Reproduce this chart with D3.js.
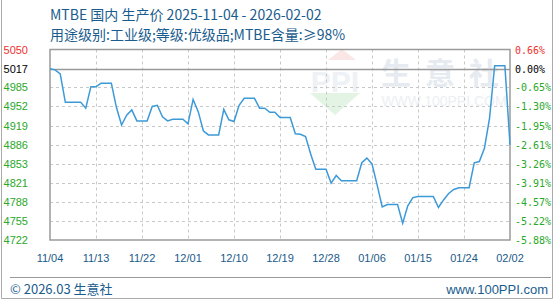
<!DOCTYPE html>
<html>
<head>
<meta charset="utf-8">
<script src="https://cdn.jsdelivr.net/npm/d3@7"></script>
<style>
body { margin: 0; background: #fff; }
svg { display: block; }
.grid { stroke: #c8c8c8; stroke-dasharray: 3,3; stroke-width: 1; }
.ylab { font-family: "Liberation Sans", Arial, sans-serif; font-size: 11px; }
.plab { font-family: "DejaVu Sans Mono", monospace; font-size: 10px; }
.xlab { font-family: "Liberation Sans", Arial, sans-serif; font-size: 11px; fill: #1a5a8a; }
.title { font-family: "Noto Sans CJK SC", sans-serif; font-size: 14px; fill: #1a5c8e; }
</style>
</head>
<body>
<div id="chart"></div>
<script>
// price points (date, yuan/ton)
var dates = ["2025-11-04","2025-11-05","2025-11-06","2025-11-07","2025-11-10","2025-11-11","2025-11-12","2025-11-13",
  "2025-11-14","2025-11-16","2025-11-17","2025-11-18","2025-11-19","2025-11-20","2025-11-21","2025-11-23",
  "2025-11-24","2025-11-25","2025-11-26","2025-11-27","2025-11-28","2025-11-30","2025-12-01","2025-12-02",
  "2025-12-03","2025-12-04","2025-12-05","2025-12-07","2025-12-08","2025-12-09","2025-12-10","2025-12-11",
  "2025-12-12","2025-12-14","2025-12-15","2025-12-16","2025-12-17","2025-12-18","2025-12-19","2025-12-21",
  "2025-12-22","2025-12-23","2025-12-24","2025-12-25","2025-12-26","2025-12-28","2025-12-29","2025-12-30",
  "2025-12-31","2026-01-03","2026-01-04","2026-01-05","2026-01-06","2026-01-07","2026-01-08","2026-01-09",
  "2026-01-11","2026-01-12","2026-01-13","2026-01-14","2026-01-15","2026-01-18","2026-01-19","2026-01-20",
  "2026-01-21","2026-01-22","2026-01-23","2026-01-25","2026-01-26","2026-01-27","2026-01-28","2026-01-29",
  "2026-01-30","2026-02-01","2026-02-02"];
var prices = [5017,5015,5008,4959,4959,4949,4986,4986,
  4992,4992,4950,4920,4937,4946,4927,4927,
  4952,4954,4934,4927,4930,4930,4922,4964,
  4943,4910,4903,4903,4947,4929,4926,4954,
  4966,4966,4949,4949,4942,4942,4933,4933,
  4905,4904,4900,4870,4844,4844,4820,4833,
  4824,4824,4855,4863,4853,4817,4779,4783,
  4783,4751,4781,4795,4797,4797,4778,4791,
  4802,4809,4812,4812,4855,4857,4880,4932,
  5022,5022,4886];

var yTicks = [5050,5017,4985,4952,4919,4886,4853,4821,4788,4755,4722];
var pctTicks = ["0.66%","0.00%","-0.65%","-1.30%","-1.95%","-2.61%","-3.26%","-3.91%","-4.57%","-5.22%","-5.88%"];
var xTicks = ["2025-11-04","2025-11-13","2025-11-22","2025-12-01","2025-12-10","2025-12-19",
  "2025-12-28","2026-01-06","2026-01-15","2026-01-24","2026-02-02"];
var baseValue = 5017;

var W = 560, H = 300;
var pLeft = 50, pRight = 510, pTop = 49.5, pBottom = 240;
var parse = d3.timeParse("%Y-%m-%d");

var svg = d3.select("#chart").append("svg").attr("width", W).attr("height", H);

// outer frame
svg.append("path").attr("d", "M1.5,0V298.5H552.5V0")
  .attr("fill", "none").attr("stroke", "#aaa");

var x = d3.scaleTime().domain([parse("2025-11-04"), parse("2026-02-02")]).range([pLeft, pRight]);
var y = d3.scaleLinear().domain([4722, 5050]).range([pBottom, pTop]);

// watermark
var wm = svg.append("g");
wm.append("path").attr("d", "M328,60 L342,49 L356,60 Z").attr("fill", "#fbe6e6");
wm.append("text").attr("x", 335).attr("y", 92).attr("text-anchor", "middle")
  .style("font-family", "Liberation Sans, sans-serif").style("font-size", "30px").style("font-weight", "bold")
  .attr("fill", "#eef1f6").text("PPI");
wm.append("path").attr("d", "M310,93 L360,93 L335,115 Z").attr("fill", "#e3f4e4");
wm.append("text").attr("x", 447).attr("y", 84).attr("text-anchor", "middle")
  .style("font-family", "Noto Sans CJK SC, sans-serif").style("font-size", "30px").style("font-weight", "bold")
  .style("letter-spacing", "14px").attr("fill", "#e6eaf1").text("生意社");
wm.append("text").attr("x", 444).attr("y", 106).attr("text-anchor", "middle")
  .style("font-family", "Liberation Sans, sans-serif").style("font-size", "14px")
  .attr("fill", "#eceff4").text("WWW.100PPI.COM");

// grid
svg.selectAll(".hg").data(yTicks.slice(1, -1)).enter().append("line")
  .attr("class", "grid")
  .attr("x1", pLeft).attr("x2", pRight)
  .attr("y1", function(d) { return Math.round(y(d)) + 0.5; })
  .attr("y2", function(d) { return Math.round(y(d)) + 0.5; });
svg.selectAll(".vg").data(xTicks.slice(1, -1)).enter().append("line")
  .attr("class", "grid")
  .attr("y1", pTop).attr("y2", pBottom)
  .attr("x1", function(d) { return Math.round(x(parse(d))) + 0.5; })
  .attr("x2", function(d) { return Math.round(x(parse(d))) + 0.5; });

// base line
svg.append("line").attr("x1", pLeft).attr("x2", pRight)
  .attr("y1", Math.round(y(baseValue)) + 0.5).attr("y2", Math.round(y(baseValue)) + 0.5)
  .attr("stroke", "#999").attr("stroke-width", 1.5);

// plot frame
svg.append("rect").attr("x", pLeft).attr("y", pTop).attr("width", pRight - pLeft).attr("height", pBottom - pTop)
  .attr("fill", "none").attr("stroke", "#9a9a9a").attr("stroke-width", 1.5);

// price line
var pts = dates.map(function(d, i) { return [parse(d), prices[i]]; });
var line = d3.line().x(function(d) { return x(d[0]); }).y(function(d) { return y(d[1]); });
svg.append("path").datum(pts).attr("d", line)
  .attr("fill", "none").attr("stroke", "#3d9ad8").attr("stroke-width", 1.5);

function tickColor(i) { return i == 0 ? "#f03030" : (i == 1 ? "#000" : "#2aa82a"); }

// left labels
svg.selectAll(".ylab").data(yTicks).enter().append("text")
  .attr("class", "ylab")
  .attr("x", 28).attr("y", function(d) { return y(d) + 4; })
  .attr("text-anchor", "end")
  .attr("fill", function(d, i) { return tickColor(i); })
  .text(function(d) { return d; });

// right labels
svg.selectAll(".plab").data(pctTicks).enter().append("text")
  .attr("class", "plab")
  .attr("x", 515).attr("y", function(d, i) { return y(yTicks[i]) + 4; })
  .attr("fill", function(d, i) { return tickColor(i); })
  .text(function(d) { return d; });

// x labels
svg.selectAll(".xlab").data(xTicks).enter().append("text")
  .attr("class", "xlab")
  .attr("x", function(d) { return x(parse(d)); }).attr("y", 262)
  .attr("text-anchor", "middle")
  .text(function(d) { return d3.timeFormat("%m/%d")(parse(d)); });

// titles
svg.append("text").attr("class", "title").attr("x", 50).attr("y", 20)
  .text("MTBE 国内 生产价 2025-11-04 - 2026-02-02");
svg.append("text").attr("class", "title").attr("x", 50).attr("y", 40)
  .text("用途级别:工业级;等级:优级品;MTBE含量:≥98%");

// footer
svg.append("line").attr("x1", 10).attr("x2", 551).attr("y1", 277.5).attr("y2", 277.5)
  .attr("stroke", "#999");
svg.append("text").attr("x", 10).attr("y", 294)
  .style("font-family", "Noto Sans CJK SC, sans-serif").style("font-size", "13px")
  .attr("fill", "#1a5c8e").text("© 2026.03 生意社");
svg.append("text").attr("x", 548).attr("y", 294).attr("text-anchor", "end")
  .style("font-family", "Liberation Sans, sans-serif").style("font-size", "13px")
  .attr("fill", "#1a5c8e").text("www.100PPI.com");
</script>
</body>
</html>
